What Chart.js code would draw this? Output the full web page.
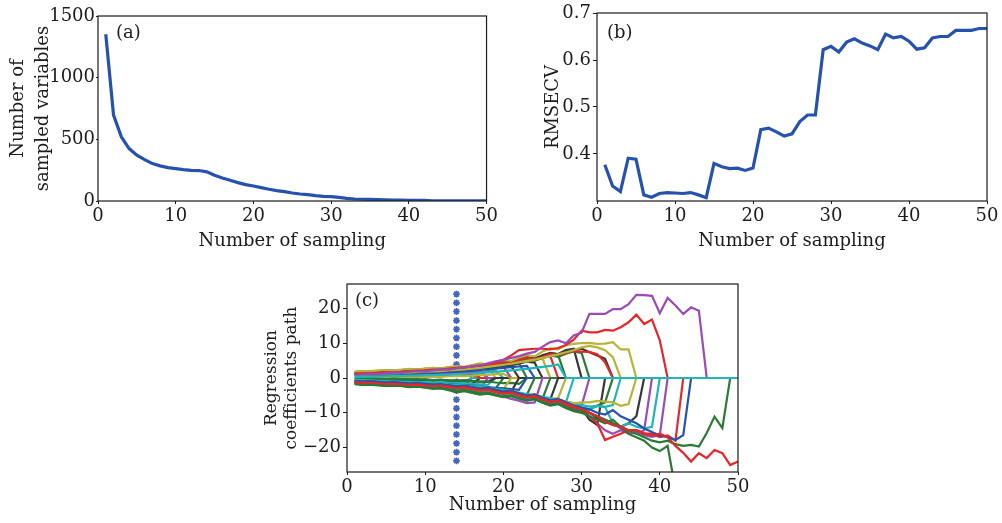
<!DOCTYPE html>
<html>
<head>
<meta charset="utf-8">
<script src="https://cdn.jsdelivr.net/npm/chart.js@4.4.1/dist/chart.umd.min.js"></script>
<style>
html, body { margin: 0; padding: 0; background: #fff; }
body { width: 1002px; height: 523px; position: relative; overflow: hidden; }
.panel { position: absolute; }
</style>
</head>
<body>
<div class="panel" style="left:0;top:0;width:500px;height:255px"><canvas id="chartA"></canvas></div>
<div class="panel" style="left:500px;top:0;width:502px;height:255px"><canvas id="chartB"></canvas></div>
<div class="panel" style="left:250px;top:268px;width:510px;height:255px"><canvas id="chartC"></canvas></div>
<script>
// sampling runs 1..50
const sampling = [1,2,3,4,5,6,7,8,9,10,11,12,13,14,15,16,17,18,19,20,21,22,23,24,25,
    26,27,28,29,30,31,32,33,34,35,36,37,38,39,40,41,42,43,44,45,46,47,48,49,50];
const xTicks = [0, 10, 20, 30, 40, 50];

// (a) number of sampled variables
const sampledVars = [1352,696,520,425,371,336,303,285,271,263,255,249,247,236,209,187,168,149,133,122,
    108,95,84,76,65,57,51,43,38,35,30,22,16,14,13,11,9,8,7,6,6,5,2,2,2,2,1,1,1,1];
const ticksA = [0, 500, 1000, 1500];

// (b) RMSECV
const rmsecv = [0.377,0.332,0.320,0.391,0.389,0.313,0.308,0.316,0.318,0.317,
    0.316,0.318,0.313,0.307,0.380,0.373,0.369,0.370,0.365,0.370,
    0.452,0.455,0.447,0.438,0.443,0.469,0.483,0.483,0.622,0.629,
    0.617,0.638,0.645,0.636,0.630,0.622,0.655,0.647,0.650,0.640,
    0.623,0.626,0.647,0.650,0.650,0.663,0.663,0.663,0.667,0.667];
const ticksB = [0.4, 0.5, 0.6, 0.7];

// (c) regression coefficient paths, listed until the variable is dropped (0 afterwards)
const u01 = [1.2,1.3,1.2,1.4,1.5,1.4,1.6,1.6,1.7,1.8,1.7,1.9,2.0,2.0,2.1];
const u02 = [1.5,1.6,1.7,1.6,1.8,1.9,1.9,2.0,2.1,2.0,2.2,2.3,2.4,2.4,2.6,2.7];
const u03 = [0.8,0.9,1.0,1.1,1.0,1.2,1.3,1.2,1.4,1.5,1.4,1.6,1.7,1.8,1.9,2.1,2.2];
const u04 = [1.8,1.9,2.0,2.1,2.0,2.2,2.3,2.4,2.3,2.5,2.6,2.7,2.6,2.8,2.9,3.0,3.2,3.3];
const u05 = [0.5,0.6,0.6,0.7,0.8,0.8,0.9,0.9,1.0,1.1,1.2,1.2,1.3,1.4,1.6,1.7,1.8,2.0,2.1];
const u06 = [1.1,1.2,1.3,1.2,1.4,1.5,1.6,1.5,1.7,1.8,1.9,2.0,2.1,2.2,2.4,2.5,2.7,2.9,3.0,3.2];
const u07 = [0.9,1.0,1.1,1.2,1.1,1.3,1.4,1.5,1.6,1.6,1.8,1.9,2.0,2.1,2.3,2.4,2.6,2.8,3.0,3.1,3.4];
const u08 = [1.4,1.5,1.6,1.7,1.8,1.8,2.0,2.1,2.2,2.2,2.4,2.5,2.6,2.7,2.9,3.1,3.3,3.4,3.7,3.9,4.1,4.3];
const u09 = [0.6,0.7,0.8,0.8,0.9,1.0,1.1,1.2,1.3,1.3,1.5,1.6,1.7,1.8,2.0,2.1,2.3,2.5,2.7,2.9,3.1,3.3,3.5];
const u10 = [1.0,1.2,1.1,1.3,1.5,1.4,1.6,1.8,1.7,1.9,2.1,2.0,2.2,2.5,2.3,2.8,3.2,3.0,3.5,3.9,3.6,4.2,4.7,4.4];
const u11 = [1.6,1.8,1.7,1.9,2.1,2.0,2.2,2.3,2.4,2.6,2.5,2.7,2.9,2.8,3.1,3.5,3.3,3.7,4.2,3.9,4.5,5.0,4.7,5.3,5.6];
const u12 = [1.3,1.5,1.4,1.6,1.8,1.7,1.9,2.1,2.0,2.2,2.4,2.3,2.6,2.9,2.7,3.1,3.6,3.3,3.9,4.4,4.1,4.8,5.4,5.0,5.8,6.3];
const u13 = [1.7,1.9,1.8,2.0,2.2,2.1,2.3,2.5,2.4,2.6,2.8,2.7,3.0,3.3,3.1,3.6,4.0,3.8,4.4,4.9,4.6,5.3,5.9,5.5,6.3,6.9,6.6];
const u14 = [1.3,1.5,1.4,1.6,1.8,1.7,1.9,2.1,2.0,2.2,2.5,2.4,2.7,2.9,2.8,3.3,3.6,3.5,4.1,4.6,4.4,5.2,5.8,5.5,6.5,7.2,6.9,8.0,8.4];
const u15 = [1.5,1.7,1.6,1.8,2.0,1.9,2.1,2.3,2.2,2.4,2.7,2.6,2.9,3.2,3.0,3.5,3.9,3.7,4.3,4.7,4.5,5.3,5.9,5.6,6.4,7.0,6.8,7.5,8.0,8.4,7.4,6.5,5.5];
const u16 = [1.0,1.2,1.1,1.3,1.5,1.4,1.6,1.8,1.7,1.9,2.1,2.0,2.3,2.6,2.4,2.9,3.3,3.1,3.7,4.2,3.9,4.7,5.3,5.0,5.8,6.5,6.1,7.0,7.6,7.2];
const u17 = [1.1,1.3,1.2,1.4,1.6,1.5,1.7,1.9,1.8,2.0,2.3,2.2,2.5,2.8,2.6,3.1,3.6,3.3,4.0,4.6,4.3,5.2,5.9,5.4,6.0,6.9,6.5,7.3,7.8,7.6,7.5,6.8,4.5];
const u18 = [1.8,2.0,1.9,2.1,2.3,2.2,2.4,2.6,2.5,2.7,2.9,2.8,3.1,3.4,3.2,3.7,4.2,3.9,4.6,5.2,4.9,5.9,6.6,6.2,7.6,8.5,8.2,9.4,9.8,10.0,
    10.1,9.8,9.9,10.3,8.2,8.2];
const u19 = [0.9,1.0,1.1,1.2,1.3,1.4,1.5,1.6,1.7,1.8,1.9,2.0,2.2,2.3,2.5,2.7,2.9,3.2,3.5,3.8,4.1,4.5,4.9,5.3,5.8,6.3,6.8,7.4,8.0,8.8,
    9.2,8.8,8.0,6.0];
const u20 = [1.2,1.3,1.4,1.5,1.6,1.7,1.8,2.0,2.1,2.2,2.4,2.5,2.7,2.9,3.1,3.3,3.6,4.0,4.5,5.2,6.5,8.0,8.2,8.4,8.4,8.2,8.6,9.5,11.0,13.6,
    13.1,13.1,13.8,13.6,14.6,16.0,18.2,15.5,16.8,10.8];
const u21 = [0.8,1.0,1.2,1.1,1.4,1.6,1.5,1.8,2.0,1.9,2.2,2.5,2.4,2.8,3.0,3.4,3.6,4.2,4.8,5.2,5.8,6.3,7.0,7.5,9.0,10.3,10.8,10.0,12.2,13.0,
    18.4,18.4,18.4,19.8,19.8,21.2,23.9,23.8,23.6,18.6,23.0,20.8,18.4,20.3,19.3];
const u22 = [0.3,0.4,0.4,0.5,0.5,0.6,0.6,0.7,0.7,0.8,0.8,0.9,1.0,1.1,1.2,1.3,1.5,1.6,1.8,2.0,2.2,2.4,2.6,2.9,3.2,3.5,3.9];

// paths close to zero
const z01 = [0.2,0.3,0.2,0.3,0.4,0.3,0.4,0.5,0.4,0.5,0.6,0.5,0.7,0.8,0.7,0.9];
const z02 = [-0.2,-0.1,-0.3,-0.2,-0.3,-0.4,-0.3,-0.4,-0.5,-0.4,-0.6,-0.5,-0.7,-0.8,-0.7,-0.9,-1.0,-1.1];
const z03 = [0.0,0.1,0.0,0.1,0.2,0.1,0.2,0.3,0.2,0.3,0.4,0.3,0.5,0.6,0.5,0.7,0.8,0.9,1.1,1.2];
const z04 = [-0.1,-0.2,-0.1,-0.2,-0.3,-0.2,-0.3,-0.4,-0.3,-0.5,-0.6,-0.5,-0.7,-0.8,-0.7,-0.9,-1.1,-1.0,-1.3,-1.5,-1.4,-1.7];
const z05 = [0.6,0.7,0.6,0.8,0.9,0.8,1.0,1.1,1.0,1.2,1.3,1.2,1.4,1.5,1.4,1.6,1.8];
const z06 = [-0.3,-0.4,-0.3,-0.4,-0.5,-0.4,-0.5,-0.6,-0.5,-0.7,-0.7,-0.8,-0.8,-0.9,-1.0];

const l01 = [-1.3,-1.4,-1.4,-1.5,-1.6,-1.6,-1.7,-1.8,-1.8,-1.9,-2.0,-2.0,-2.1,-2.2,-2.3];
const l02 = [-0.6,-0.7,-0.7,-0.8,-0.9,-0.9,-1.0,-1.1,-1.1,-1.2,-1.3,-1.4,-1.4,-1.5,-1.6,-1.7];
const l03 = [-1.6,-1.7,-1.8,-1.8,-1.9,-2.0,-2.1,-2.1,-2.2,-2.3,-2.4,-2.5,-2.6,-2.7,-2.8,-3.0,-3.1];
const l04 = [-0.4,-0.5,-0.5,-0.6,-0.7,-0.7,-0.8,-0.9,-0.9,-1.0,-1.1,-1.2,-1.3,-1.4,-1.5,-1.7,-1.8,-2.0];
const l05 = [-1.1,-1.2,-1.3,-1.3,-1.4,-1.5,-1.6,-1.7,-1.7,-1.8,-1.9,-2.0,-2.1,-2.2,-2.4,-2.5,-2.7,-2.8,-3.0];
const l06 = [-0.9,-1.0,-1.1,-1.1,-1.2,-1.3,-1.4,-1.5,-1.6,-1.6,-1.8,-1.9,-2.0,-2.1,-2.3,-2.4,-2.6,-2.8,-3.0,-3.2];
const l07 = [-1.4,-1.5,-1.6,-1.6,-1.7,-1.8,-1.9,-2.0,-2.1,-2.2,-2.3,-2.4,-2.5,-2.6,-2.8,-3.0,-3.2,-3.3,-3.5,-3.7,-3.9];
const l08 = [-0.7,-0.8,-0.9,-0.9,-1.0,-1.1,-1.2,-1.3,-1.4,-1.5,-1.6,-1.7,-1.8,-1.9,-2.1,-2.2,-2.4,-2.6,-2.8,-3.0,-3.2,-3.4];
const l09 = [-1.5,-1.6,-1.7,-1.8,-1.9,-2.0,-2.1,-2.2,-2.3,-2.4,-2.5,-2.6,-2.7,-2.8,-3.0,-3.2,-3.4,-3.6,-3.8,-4.0,-4.3,-4.5,-4.8];
const l10 = [-1.0,-1.1,-1.2,-1.3,-1.4,-1.5,-1.6,-1.7,-1.8,-1.9,-2.0,-2.2,-2.3,-2.5,-2.8,-3.1,-3.5,-4.0,-4.6,-5.3,-6.0,-6.5,-7.2,-7.0];
const l11 = [-1.8,-2.0,-1.9,-2.1,-2.3,-2.2,-2.3,-2.5,-2.4,-2.6,-2.8,-2.7,-3.0,-3.3,-3.1,-3.5,-3.9,-3.7,-4.2,-4.6,-4.4,-5.0,-5.5,-5.2,-6.0];
const l12 = [-1.2,-1.4,-1.3,-1.5,-1.7,-1.6,-1.8,-2.0,-1.9,-2.1,-2.3,-2.2,-2.5,-2.8,-2.6,-3.0,-3.5,-3.2,-3.8,-4.3,-4.0,-4.7,-5.3,-5.0,-5.8,-6.2];
const l13 = [-0.8,-1.0,-0.9,-1.1,-1.3,-1.2,-1.4,-1.6,-1.5,-1.7,-1.9,-1.8,-2.1,-2.4,-2.2,-2.6,-3.0,-2.8,-3.4,-3.9,-3.6,-4.3,-4.9,-4.6,-5.5,-6.1,-5.8];
const l14 = [-1.0,-1.2,-1.1,-1.3,-1.5,-1.4,-1.6,-1.8,-1.7,-1.9,-2.1,-2.0,-2.3,-2.6,-2.4,-2.8,-3.2,-3.0,-3.6,-4.1,-3.8,-4.6,-5.2,-4.9,-5.8,-6.4,-6.1,-7.0];
const l15 = [-1.4,-1.6,-1.5,-1.7,-1.9,-1.8,-2.0,-2.2,-2.1,-2.3,-2.5,-2.4,-2.7,-3.0,-2.8,-3.3,-3.8,-3.5,-4.2,-4.9,-4.5,-5.4,-6.2,-5.7,-6.6,-7.5,-7.0,-7.8,-8.3,-8.0];
const l16 = [-1.1,-1.3,-1.2,-1.4,-1.6,-1.5,-1.7,-1.9,-1.8,-2.0,-2.2,-2.1,-2.4,-2.7,-2.5,-3.0,-3.4,-3.2,-3.9,-4.5,-4.2,-5.1,-5.8,-5.4,-6.6,-7.4,-7.0,-8.4,-9.2,-8.8,
    -12.0,-13.5];
const l17 = [-1.6,-1.8,-1.7,-1.9,-2.1,-2.0,-2.2,-2.4,-2.3,-2.5,-2.7,-2.6,-2.9,-3.2,-3.0,-3.5,-3.9,-3.7,-4.4,-5.0,-4.7,-5.6,-6.3,-5.9,-7.0,-7.8,-7.4,-8.6,-9.4,-9.0,
    -9.0,-8.0,-7.0];
const l18 = [-0.5,-0.6,-0.7,-0.8,-0.9,-1.0,-1.1,-1.2,-1.3,-1.4,-1.5,-1.6,-1.8,-1.9,-2.1,-2.3,-2.5,-2.8,-3.1,-3.4,-3.8,-4.2,-4.6,-5.0,-5.4,-5.8,-6.3,-6.8,-7.3,-7.8,
    -8.2,-8.0,-8.3,-7.8];
const l19 = [-1.3,-1.5,-1.4,-1.6,-1.8,-1.7,-1.9,-2.1,-2.0,-2.2,-2.4,-2.3,-2.6,-2.9,-2.7,-3.2,-3.6,-3.4,-4.1,-4.6,-4.3,-5.0,-5.6,-5.3,-5.9,-6.5,-6.2,-6.8,-7.3,-7.0,
    -7.0,-6.6,-6.8,-7.0,-8.0,-7.5];
const l20 = [-0.9,-1.1,-1.0,-1.2,-1.4,-1.3,-1.5,-1.7,-1.6,-1.8,-2.0,-1.9,-2.2,-2.5,-2.3,-2.7,-3.1,-2.9,-3.5,-4.0,-3.7,-4.5,-5.1,-4.8,-5.8,-6.6,-6.2,-7.3,-8.2,-9.0,
    -10.0,-11.5,-12.5,-13.5,-14.0,-13.0,-11.0];
const l21 = [-1.2,-1.4,-1.3,-1.5,-1.7,-1.6,-1.8,-2.0,-1.9,-2.1,-2.3,-2.2,-2.5,-2.8,-2.6,-3.0,-3.5,-3.2,-3.9,-4.4,-4.1,-5.0,-5.7,-5.3,-6.4,-7.2,-6.8,-8.0,-8.9,-9.2,
    -10.0,-11.0,-12.0,-13.0,-14.5,-15.5,-16.0,-15.0];
const l22 = [-1.5,-1.7,-1.6,-1.8,-2.0,-1.9,-2.1,-2.3,-2.2,-2.4,-2.6,-2.5,-2.8,-3.1,-2.9,-3.3,-3.7,-3.5,-4.1,-4.6,-4.3,-5.1,-5.7,-5.4,-6.3,-6.9,-6.6,-7.3,-7.9,-8.5,
    -9.0,-8.0,-8.3,-13.0,-14.0,-13.0,-14.0,-14.5,-14.0];
const l23 = [-1.0,-1.2,-1.1,-1.3,-1.5,-1.4,-1.6,-1.8,-1.7,-1.9,-2.1,-2.0,-2.3,-2.6,-2.4,-2.9,-3.3,-3.1,-3.7,-4.3,-4.0,-4.8,-5.5,-5.1,-6.0,-6.8,-6.4,-7.6,-8.5,-9.0,
    -11.0,-13.0,-15.0,-16.0,-15.0,-15.9,-15.4,-16.4,-16.9,-16.4];
const l24 = [-1.3,-1.5,-1.4,-1.6,-1.8,-1.7,-1.9,-2.1,-2.0,-2.2,-2.4,-2.3,-2.6,-2.9,-2.7,-3.2,-3.6,-3.4,-4.0,-4.5,-4.2,-5.0,-5.6,-5.3,-6.2,-6.9,-6.5,-7.6,-8.5,-9.5,
    -11.0,-13.0,-17.8,-16.9,-16.0,-15.0,-15.0,-16.0,-16.0,-17.0,-16.5,-18.0];
const l25 = [-0.8,-1.0,-0.9,-1.1,-1.3,-1.2,-1.4,-1.6,-1.5,-1.7,-1.9,-1.8,-2.1,-2.4,-2.2,-2.7,-3.1,-2.9,-3.5,-4.0,-3.7,-4.5,-5.1,-4.8,-5.7,-6.4,-6.0,-7.0,-7.9,-8.5,
    -9.0,-10.0,-10.5,-9.2,-11.0,-12.0,-13.0,-14.5,-15.5,-16.5,-17.0,-17.8,-16.4];
const l26 = [-1.7,-1.9,-1.8,-2.0,-2.2,-2.1,-2.3,-2.5,-2.4,-2.6,-2.8,-2.9,-3.3,-3.7,-3.5,-4.0,-4.5,-4.3,-4.9,-5.4,-5.1,-5.8,-6.4,-6.0,-6.9,-7.7,-7.3,-8.3,-9.2,-9.4,
    -10.0,-11.0,-12.0,-13.0,-14.0,-15.0,-16.0,-17.0,-18.0,-18.5,-18.0,-19.0,-19.5,-19.2,-19.7,-15.8,-11.1,-14.4];
const l27 = [-1.6,-1.8,-1.7,-1.9,-2.1,-2.0,-2.3,-2.6,-2.5,-2.8,-3.1,-3.0,-3.5,-4.1,-3.8,-4.3,-4.8,-4.5,-5.0,-5.5,-5.2,-5.9,-6.5,-6.1,-7.1,-7.9,-7.5,-8.6,-9.5,-10.0,
    -11.0,-12.0,-13.0,-12.0,-14.0,-16.0,-17.0,-18.0,-20.0,-21.0,-19.5,-32.0,-34.0,-35.0,-36.0,-36.0,-37.0,-37.0,-38.0,-38.0];
const l28 = [-1.2,-1.4,-1.3,-1.5,-1.7,-1.6,-1.8,-2.0,-1.9,-2.1,-2.3,-2.2,-2.5,-2.8,-2.6,-3.1,-3.5,-3.3,-3.9,-4.4,-4.1,-4.9,-5.5,-5.2,-6.1,-6.8,-6.4,-7.5,-8.3,-9.0,
    -10.0,-11.0,-12.5,-13.5,-14.0,-15.0,-15.0,-15.9,-16.5,-16.0,-17.0,-19.5,-21.5,-24.0,-21.6,-23.0,-20.7,-21.6,-25.0,-24.0];

// chosen sampling run and the marker column drawn there
const bestSampling = 14;
const markerY = [24.1,21.6,19.1,16.5,14.0,11.5,9.0,6.5,3.9,1.4,-1.1,-3.6,-6.2,-8.7,-11.2,-13.7,-16.2,-18.8,-21.3,-23.8];
const ticksC = [-20, -10, 0, 10, 20];

// draw order: first entry ends up on top
const coefPaths = [u22,l28,l27,u21,u20,l26,l25,l24,l23,l22,l21,l20,l19,l18,l17,l16,l15,l14,l13,
    u19,u18,u17,u16,u15,u14,u13,l12,u12,l11,u11,l10,u10,l09,u09,l08,u08,l07,u07,l06,u06,
    z04,z03,z02,z05,z01,z06,
    l05,u05,l04,u04,l03,u03,l02,u02,l01,u01];

const palette = {b:'#2453ae', g:'#2b7a34', r:'#e5262b', c:'#22b4b6', m:'#9a4bb6', y:'#b6b53a', k:'#363636'};
const pathColors = ['c','r','g','m','r','g','b','r','m','c','m','k','y','c','g','k','m','c','y',
    'y','y','r','g','k','k','g','k','r','g','y','m','k','g','b','b','g','k','k','y','m',
    'g','y','k','m','r','c',
    'g','c','c','y','m','r','k','k','g','g'];

const FONT = "'DejaVu Serif', serif";
const INK = '#1c1c1c';
const FSIZE = 18;

function toPoints(values) {
    return sampling.map((x, i) => ({x: x, y: i < values.length ? values[i] : 0}));
}

const framePlugin = {
    id: 'frame',
    afterDraw(chart, args, opts) {
        const {ctx, chartArea: a} = chart;
        ctx.save();
        ctx.strokeStyle = INK;
        ctx.lineWidth = 1.2;
        ctx.strokeRect(a.left, a.top, a.right - a.left, a.bottom - a.top);
        ctx.fillStyle = INK;
        ctx.font = FSIZE + 'px ' + FONT;
        ctx.textBaseline = 'middle';
        ctx.fillText(opts.text, a.left + opts.dx, a.top + opts.dy);
        ctx.restore();
    }
};

function makeOptions(o) {
    const font = {family: FONT, size: FSIZE};
    return {
        responsive: true,
        maintainAspectRatio: false,
        animation: false,
        devicePixelRatio: 1,
        layout: {padding: {left: 0, top: o.top, right: o.right, bottom: 0}},
        plugins: {
            legend: {display: false},
            tooltip: {enabled: false},
            frame: {text: o.tag, dx: o.tagX, dy: o.tagY}
        },
        scales: {
            x: {
                type: 'linear', min: 0, max: 50,
                afterBuildTicks: s => { s.ticks = xTicks.map(v => ({value: v})); },
                afterFit: s => { s.height = o.xh; },
                grid: {drawOnChartArea: false, tickLength: 3, color: INK},
                border: {display: false},
                ticks: {font: font, color: INK, padding: 2, maxRotation: 0, autoSkip: false,
                    callback: v => String(v)},
                title: {display: true, text: 'Number of sampling', font: font, color: INK,
                    padding: {top: 0, bottom: o.xtb}}
            },
            y: {
                type: 'linear', min: o.ymin, max: o.ymax,
                afterBuildTicks: s => { s.ticks = o.yticks.map(v => ({value: v})); },
                afterFit: s => { s.width = o.yw; },
                grid: {drawOnChartArea: false, tickLength: o.ytl, color: INK},
                border: {display: false},
                ticks: {font: font, color: INK, padding: o.ytp, autoSkip: false, callback: o.yfmt},
                title: {display: true, text: o.ytitle, color: INK,
                    font: {family: FONT, size: o.ytsize, lineHeight: o.ytlh},
                    padding: {top: o.ytpad, bottom: 0}}
            }
        }
    };
}

new Chart(document.getElementById('chartA'), {
    type: 'line',
    data: {datasets: [{data: toPoints(sampledVars), borderColor: '#2652ad', borderWidth: 3.2,
        pointRadius: 0, tension: 0, fill: false}]},
    options: makeOptions({top: 16, right: 11, xh: 54, xtb: 3, yw: 98, ytl: 2, ytp: 1,
        ymin: 0, ymax: 1500, yticks: ticksA, yfmt: v => String(v),
        ytitle: ['Number of', 'sampled variables'], ytsize: 18, ytlh: 1.4, ytpad: 6,
        tag: '(a)', tagX: 18, tagY: 17}),
    plugins: [framePlugin]
});

new Chart(document.getElementById('chartB'), {
    type: 'line',
    data: {datasets: [{data: toPoints(rmsecv), borderColor: '#2652ad', borderWidth: 3.2,
        pointRadius: 0, tension: 0, fill: false}]},
    options: makeOptions({top: 13, right: 15, xh: 54, xtb: 3, yw: 97, ytl: 4, ytp: 2,
        ymin: 0.3, ymax: 0.7, yticks: ticksB, yfmt: v => v.toFixed(1),
        ytitle: 'RMSECV', ytsize: 18, ytlh: 1.2, ytpad: 43,
        tag: '(b)', tagX: 10, tagY: 20}),
    plugins: [framePlugin]
});

const coefSets = coefPaths.map((p, i) => ({
    data: toPoints(p), borderColor: palette[pathColors[i]], borderWidth: 2.2,
    pointRadius: 0, tension: 0, fill: false
}));
coefSets.push({
    data: markerY.map(y => ({x: bestSampling, y: y})),
    showLine: false,
    pointStyle: 'star', pointRadius: 3.4, pointBorderWidth: 1.7,
    pointBorderColor: '#4565c0', pointBackgroundColor: '#4565c0'
});

new Chart(document.getElementById('chartC'), {
    type: 'line',
    data: {datasets: coefSets},
    options: makeOptions({top: 16, right: 22, xh: 51, xtb: 7, yw: 97, ytl: 4, ytp: 2,
        ymin: -27, ymax: 27, yticks: ticksC, yfmt: v => (v < 0 ? '\u2212' + Math.abs(v) : String(v)),
        ytitle: ['Regression', 'coefficients path'], ytsize: 17, ytlh: 1.15, ytpad: 12,
        tag: '(c)', tagX: 8, tagY: 17}),
    plugins: [framePlugin]
});
</script>
</body>
</html>
